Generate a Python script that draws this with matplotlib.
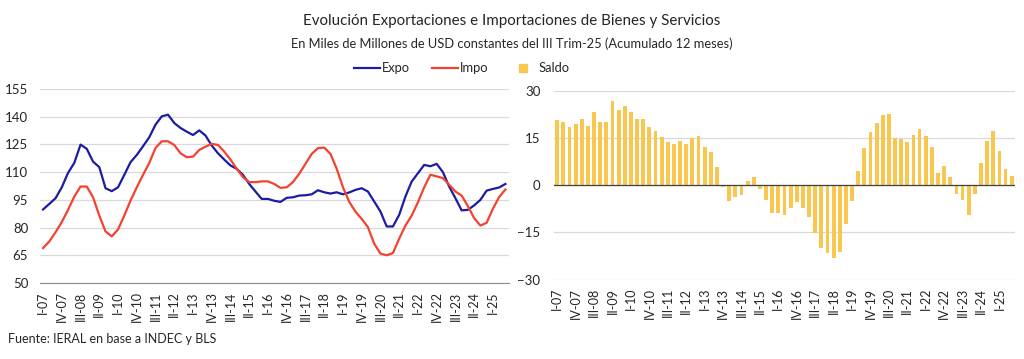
import numpy as np
import matplotlib.pyplot as plt
from matplotlib.lines import Line2D

plt.rcParams['font.family'] = ['Lato', 'DejaVu Sans']

# quarters I-07 .. III-25
roman = ['I', 'II', 'III', 'IV']
quarters = [f"{r}-{y:02d}" for y in range(7, 26) for r in roman][:75]

expo = [89.8, 92.8, 95.9, 101.8, 109.6, 115.0, 124.9, 122.6, 115.7, 112.7,
        101.3, 99.7, 101.8, 108.5, 115.4, 119.3, 124.0, 128.9, 135.7, 140.2,
        141.1, 136.6, 133.9, 131.9, 130.1, 132.6, 129.8, 124.4, 120.2, 116.8,
        113.6, 111.8, 108.5, 103.6, 99.5, 95.5, 95.5, 94.5, 93.9, 96.1,
        96.4, 97.3, 97.5, 98.0, 100.2, 99.1, 98.4, 99.1, 98.0, 99.0,
        100.4, 101.3, 99.5, 94.1, 88.7, 80.6, 80.6, 86.9, 96.8, 104.9,
        109.4, 113.9, 113.2, 114.5, 110.0, 102.2, 95.9, 89.3, 89.6, 92.0,
        95.0, 100.0, 100.9, 101.7, 103.6]

impo = [68.9, 72.5, 77.5, 83.0, 89.6, 96.8, 102.2, 102.2, 96.4, 86.5,
        77.9, 75.2, 79.0, 86.5, 94.6, 101.8, 108.5, 115.0, 123.1, 126.7,
        126.7, 124.7, 120.2, 118.1, 118.4, 122.0, 123.8, 125.3, 124.7, 121.1,
        116.8, 111.8, 107.3, 104.6, 104.6, 105.0, 105.0, 103.6, 101.5, 101.8,
        104.6, 109.1, 114.5, 119.9, 123.0, 123.3, 119.9, 111.8, 101.8, 94.0,
        88.6, 84.7, 80.2, 71.3, 65.9, 65.0, 66.2, 74.0, 81.1, 86.5,
        93.7, 101.8, 108.6, 107.7, 106.8, 103.2, 99.5, 97.3, 91.6, 85.1,
        81.1, 82.6, 90.2, 96.5, 100.6]

saldo = [20.9, 20.3, 18.6, 19.7, 21.1, 18.8, 23.3, 20.3, 20.3, 26.8,
         24.1, 25.4, 23.3, 21.2, 21.2, 18.6, 17.4, 15.4, 13.7, 13.2,
         14.2, 13.3, 15.0, 15.6, 12.2, 10.5, 6.0, -0.6, -4.9, -3.8,
         -3.0, 1.3, 2.8, -1.0, -4.5, -8.9, -8.9, -9.5, -7.3, -5.4,
         -7.1, -10.2, -15.3, -20.1, -21.5, -23.3, -21.2, -12.4, -4.9, 4.5,
         11.8, 17.0, 19.8, 22.3, 22.7, 15.2, 14.7, 13.8, 16.2, 17.9,
         15.7, 12.1, 4.1, 6.2, 2.7, -2.8, -4.5, -9.3, -2.8, 7.0,
         14.1, 17.3, 11.0, 5.1, 3.0]

blue = '#1c1ca3'
red = '#f5412f'
gold = '#f9c74f'
grid_c = '#d9d9d9'
txt = '#262626'

x = np.arange(len(quarters))
ticks = x[::3]

fig = plt.figure(figsize=(10.24, 3.59), dpi=100)
ax1 = fig.add_axes([0.039, 0.2117, 0.4576, 0.5404])
ax2 = fig.add_axes([0.5412, 0.2214, 0.4498, 0.5243])

# left: expo / impo lines
ax1.plot(x, expo, color=blue, lw=1.6)
ax1.plot(x, impo, color=red, lw=1.6)
ax1.set_xlim(-0.5, len(x) - 0.5)
ax1.set_ylim(50, 155)
ax1.set_yticks(np.arange(50, 156, 15))
ax1.grid(axis='y', color=grid_c, lw=0.9)
ax1.spines['bottom'].set_color('#8c8c8c')

# right: saldo bars
ax2.bar(x, saldo, width=0.62, color=gold)
ax2.axhline(0, color='#404040', lw=0.9, zorder=3)
ax2.set_xlim(-0.5, len(x) - 0.5)
ax2.set_ylim(-30, 30)
ax2.set_yticks(np.arange(-30, 31, 15))
ax2.grid(axis='y', color=grid_c, lw=0.9)
ax2.spines['bottom'].set_visible(False)

for ax, pad in ((ax1, 8.5), (ax2, 10)):
    ax.set_axisbelow(True)
    for s in ('top', 'right', 'left'):
        ax.spines[s].set_visible(False)
    ax.set_xticks(ticks)
    ax.set_xticklabels([quarters[i] for i in ticks], rotation=90,
                       fontsize=9, color=txt)
    ax.tick_params(axis='x', length=0, pad=6)
    ax.tick_params(axis='y', length=0, pad=pad, labelsize=9.5, labelcolor=txt)

fig.text(0.5, 0.942, 'Evolución Exportaciones e Importaciones de Bienes y Servicios',
         ha='center', va='center', fontsize=10.9, color=txt)
fig.text(0.5, 0.877, 'En Miles de Millones de USD constantes del III Trim-25 (Acumulado 12 meses)',
         ha='center', va='center', fontsize=9.3, color=txt)

handles = [Line2D([], [], color=blue, lw=1.6),
           Line2D([], [], color=red, lw=1.6),
           Line2D([], [], color=gold, marker='s', ls='none', markersize=6)]
fig.legend(handles, ['Expo', 'Impo', 'Saldo'], loc='center',
           bbox_to_anchor=(0.451, 0.81), ncol=3, frameon=False, fontsize=9.3,
           handlelength=2.0, handletextpad=0.15, columnspacing=1.7,
           labelcolor=txt)

fig.text(0.008, 0.057, 'Fuente: IERAL en base a INDEC y BLS', ha='left',
         va='center', fontsize=9, color=txt)

fig.savefig('out.png', dpi=100)
